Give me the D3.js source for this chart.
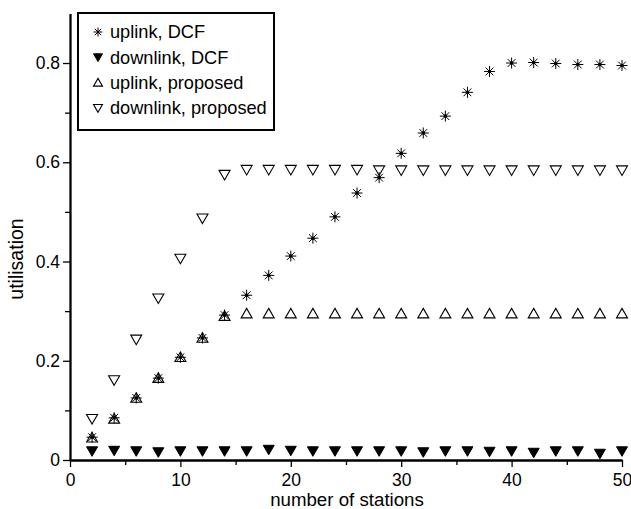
<!DOCTYPE html>
<html>
<head>
<meta charset="utf-8">
<script src="https://cdn.jsdelivr.net/npm/d3@7"></script>
<style>
  html, body { margin: 0; padding: 0; background: #fff; }
  svg { display: block; }
  text { font-family: "Liberation Sans", Arial, Helvetica, sans-serif; fill: #000; }
</style>
</head>
<body>
<svg id="chart" width="631" height="509"></svg>
<script>
// ---- data ----
const stations = [2,4,6,8,10,12,14,16,18,20,22,24,26,28,30,32,34,36,38,40,42,44,46,48,50];
const uplinkDCF = [0.046,0.085,0.125,0.165,0.207,0.246,0.292,0.332,0.372,0.411,0.447,0.490,0.538,0.569,0.618,0.659,0.693,0.741,0.783,0.800,0.801,0.799,0.797,0.797,0.795];
const downlinkDCF = [0.018,0.019,0.018,0.016,0.018,0.018,0.018,0.018,0.021,0.019,0.018,0.018,0.018,0.018,0.018,0.016,0.018,0.018,0.017,0.018,0.015,0.018,0.018,0.013,0.018];
const uplinkProposed = [0.045,0.083,0.125,0.165,0.207,0.246,0.290,0.295,0.295,0.295,0.295,0.295,0.295,0.295,0.295,0.295,0.295,0.295,0.295,0.295,0.295,0.295,0.295,0.295,0.295];
const downlinkProposed = [0.083,0.161,0.243,0.326,0.406,0.487,0.575,0.585,0.585,0.585,0.585,0.585,0.585,0.584,0.584,0.584,0.584,0.584,0.584,0.584,0.584,0.584,0.584,0.584,0.584];
const seriesNames = ["uplink, DCF","downlink, DCF","uplink, proposed","downlink, proposed"];
const xMajorTicks = [0,10,20,30,40,50];
const xMinorTicks = [5,15,25,35,45];
const yMajorTicks = [0,0.2,0.4,0.6,0.8];
const yMinorTicks = [0.1,0.3,0.5,0.7];
const xTitle = "number of stations";
const yTitle = "utilisation";

// ---- layout ----
const svg = d3.select("#chart");
const x = d3.scaleLinear().domain([0,50]).range([70,622]);
const y = d3.scaleLinear().domain([0,0.9]).range([460,13.4]);

// marker shapes
function asterisk(s){
  const r = s/2, d = r*0.7071;
  return `M${-r},0L${r},0M0,${-r}L0,${r}M${-d},${-d}L${d},${d}M${-d},${d}L${d},${-d}`;
}
function triUp(s){
  const w = s/2, h = s*0.866;
  return `M0,${-h*0.55}L${w},${h*0.45}L${-w},${h*0.45}Z`;
}
function triDown(s){
  const w = s/2, h = s*0.866;
  return `M0,${h*0.55}L${w},${-h*0.45}L${-w},${-h*0.45}Z`;
}
const styles = [
  {shape: asterisk, fill: "none", stroke: "#000", sw: 1.0, dot: true},
  {shape: triDown, fill: "#000", stroke: "#000", sw: 1, dot: false},
  {shape: triUp, fill: "none", stroke: "#000", sw: 1.1, dot: false},
  {shape: triDown, fill: "none", stroke: "#000", sw: 1.1, dot: false}
];
const allSeries = [uplinkDCF, downlinkDCF, uplinkProposed, downlinkProposed];

// ---- axes ----
const fmt = d => d === 0 ? "0" : d3.format(".1f")(d);
const gx = svg.append("g").attr("transform", "translate(0,460)");
gx.call(d3.axisBottom(x).tickValues(xMajorTicks).tickSize(7).tickSizeOuter(0).tickPadding(3));
gx.append("g").call(d3.axisBottom(x).tickValues(xMinorTicks).tickSize(5).tickSizeOuter(0).tickFormat(""));
const gy = svg.append("g").attr("transform", "translate(70,0)");
gy.call(d3.axisLeft(y).tickValues(yMajorTicks).tickSize(7).tickSizeOuter(0).tickPadding(3).tickFormat(fmt));
gy.append("g").call(d3.axisLeft(y).tickValues(yMinorTicks).tickSize(5).tickSizeOuter(0).tickFormat(""));
svg.selectAll(".domain").attr("stroke", "#000").attr("stroke-width", 1.8);
svg.selectAll(".tick line").attr("stroke", "#000").attr("stroke-width", 1.3);
svg.selectAll(".tick text").style("font-size", "17.5px").attr("fill", "#000");
gx.selectAll(".tick text").attr("dy", "0.91em");

svg.append("text").attr("x", 347).attr("y", 506).attr("text-anchor", "middle")
  .style("font-size", "18.7px").text(xTitle);
svg.append("text").attr("transform", "translate(23,259) rotate(-90)").attr("text-anchor", "middle")
  .style("font-size", "19.5px").text(yTitle);

// ---- marks ----
allSeries.forEach((vals, i) => {
  const st = styles[i];
  const g = svg.append("g");
  const pts = g.selectAll("g.pt").data(stations.map((s, k) => ({s, v: vals[k]})))
    .enter().append("g").attr("class","pt")
    .attr("transform", d => `translate(${x(d.s)},${y(d.v)})`);
  pts.append("path").attr("d", st.shape(11)).attr("fill", st.fill)
    .attr("stroke", st.stroke).attr("stroke-width", st.sw);
  if (st.dot) pts.append("circle").attr("r", 1.8).attr("fill", "#000");
});

// ---- legend ----
const lg = svg.append("g");
lg.append("rect").attr("x", 78).attr("y", 13).attr("width", 196).attr("height", 117)
  .attr("fill", "#fff").attr("stroke", "#000").attr("stroke-width", 2);
const rowY = d3.scalePoint().domain(seriesNames).range([32, 108]);
seriesNames.forEach((name, i) => {
  const st = styles[i];
  const row = lg.append("g").attr("transform", `translate(98,${rowY(name)})`);
  row.append("path").attr("d", st.shape(9)).attr("fill", st.fill)
    .attr("stroke", st.stroke).attr("stroke-width", st.sw);
  if (st.dot) row.append("circle").attr("r", 1.2).attr("fill", "#000");
  row.append("text").attr("x", 12).attr("dy", "0.35em").style("font-size", "18.2px").text(name);
});
</script>
</body>
</html>
